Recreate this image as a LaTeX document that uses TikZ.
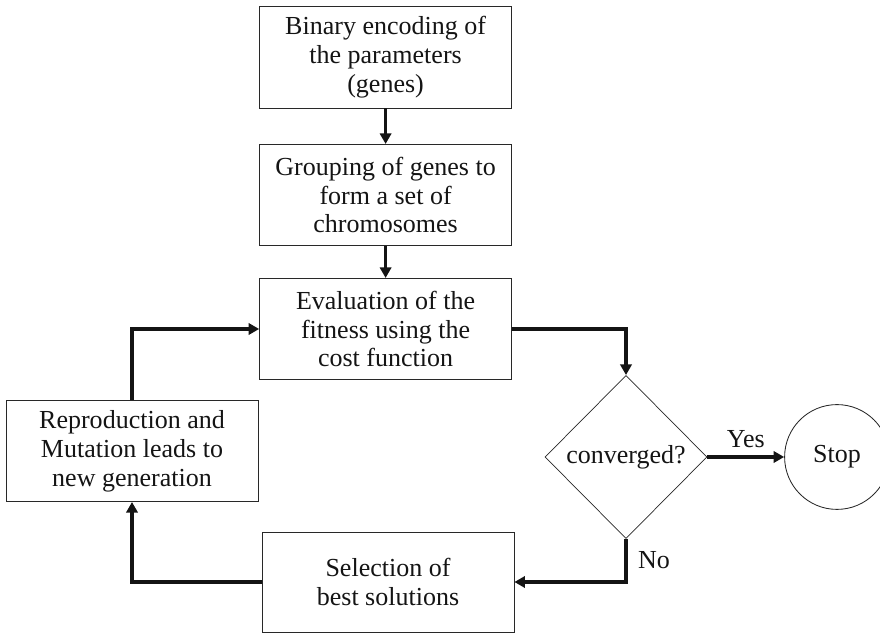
\documentclass[tikz,border=0pt]{standalone}
\usepackage{fontspec}
\setmainfont{Liberation Serif}
\usepackage{xcolor}
\usepackage{tikz}
\usetikzlibrary{arrows.meta,shapes,positioning,calc}
\definecolor{gaLine} {RGB}{40, 40, 40}
\definecolor{gaFlow} {RGB}{20, 20, 20}
\definecolor{gaText} {RGB}{20, 20, 20}

\begin{document}
\begin{tikzpicture}[
    gaBox/.style={draw=gaLine,line width=0.6pt,minimum width=6.3cm,minimum height=2.53cm,
      inner sep=0pt,align=center,text=gaText,font=\fontsize{18.5}{20.5}\selectfont},
    gaDecision/.style={diamond,draw=gaLine,line width=0.5pt,minimum width=4.05cm,minimum height=4.08cm,
      inner sep=0pt,text=gaText,font=\fontsize{18.5}{20.5}\selectfont},
    gaStop/.style={circle,draw=gaLine,line width=0.6pt,minimum size=2.62cm,inner sep=0pt,
      text=gaText,font=\fontsize{18.5}{20.5}\selectfont},
    gaArrow/.style={-{Triangle[length=7.5pt,width=8pt]},gaFlow,line width=2.4pt},
    gaLabel/.style={text=gaText,font=\fontsize{18.5}{20.5}\selectfont}]
        \useasboundingbox (0,0) rectangle (22,15.825);
        % process boxes
        \node[gaBox] (encode) at (9.64,14.39) {Binary encoding of\\the parameters\\(genes)};
        \node[gaBox] (group) at (9.64,10.95) {Grouping of genes to\\form a set of\\chromosomes};
        \node[gaBox] (eval) at (9.64,7.6) {Evaluation of the\\fitness using the\\cost function};
        \node[gaBox] (repro) at (3.3,4.55) {Reproduction and\\Mutation leads to\\new generation};
        \node[gaBox,minimum height=2.5cm] (select) at (9.7,1.275) {Selection of\\best solutions};
        \node[gaDecision] (conv) at (15.65,4.4) {converged?};
        \node[gaStop] (stop) at (20.925,4.4) {Stop};
        % flow
        \draw[gaArrow] (encode.south)--(group.north);
        \draw[gaArrow] (group.south)--(eval.north);
        \draw[gaArrow] (eval.east) -| (conv.north);
        \draw[gaArrow] (conv.east)--(stop.west) node[gaLabel,midway,above,yshift=2pt]{Yes};
        \draw[gaArrow] (conv.south) |- node[gaLabel,pos=0.25,right,xshift=4pt]{No} (select.east);
        \draw[gaArrow] (select.west) -| (repro.south);
        \draw[gaArrow] (repro.north) |- (eval.west);
      \end{tikzpicture}
\end{document}
